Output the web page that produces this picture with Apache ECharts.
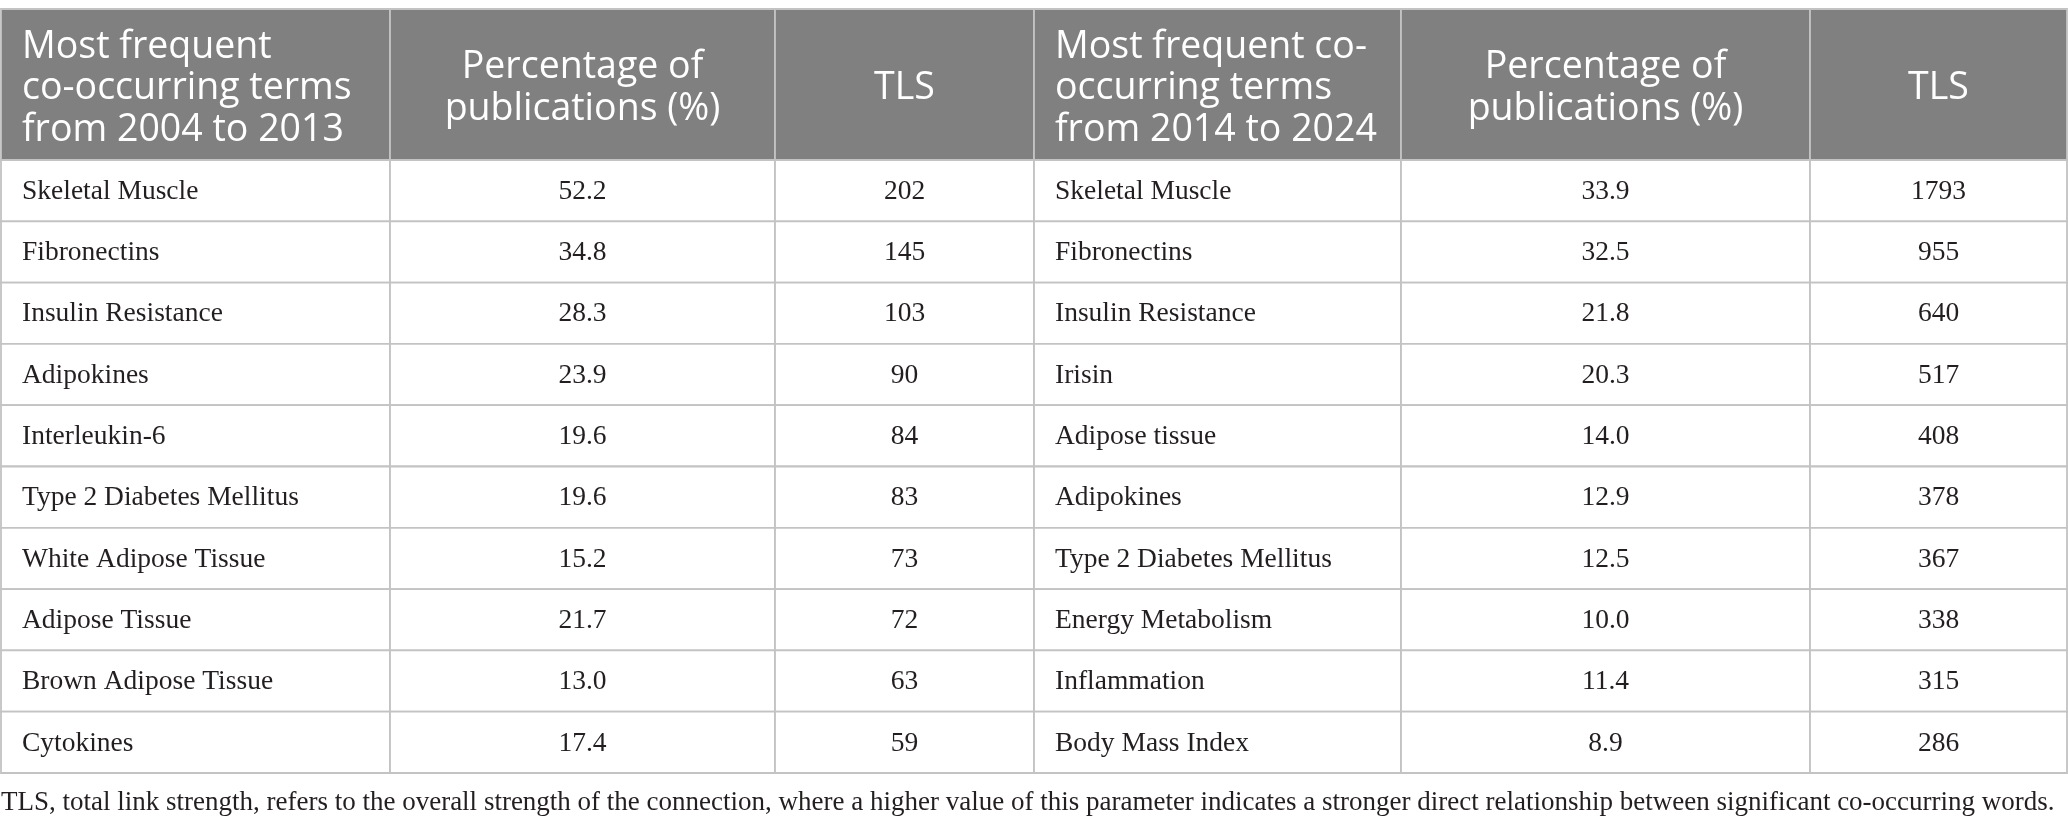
<!DOCTYPE html>
<html>
<head>
<meta charset="utf-8">
<title>Co-occurring terms</title>
<script src="https://cdn.jsdelivr.net/npm/echarts@6/dist/echarts.min.js"></script>
<style>
    html, body { margin: 0; padding: 0; background: #fff; }
    #chart { width: 2068px; height: 830px; }
</style>
</head>
<body>
<div id="chart"></div>
<script>
// 表头
var headers = [
    'Most frequent\nco-occurring terms\nfrom 2004 to 2013',
    'Percentage of\npublications (%)',
    'TLS',
    'Most frequent co-\noccurring terms\nfrom 2014 to 2024',
    'Percentage of\npublications (%)',
    'TLS'
];
// 2004-2013
var termsA = ['Skeletal Muscle', 'Fibronectins', 'Insulin Resistance', 'Adipokines', 'Interleukin-6',
    'Type 2 Diabetes Mellitus', 'White Adipose Tissue', 'Adipose Tissue', 'Brown Adipose Tissue', 'Cytokines'];
var pctA = [52.2, 34.8, 28.3, 23.9, 19.6, 19.6, 15.2, 21.7, 13.0, 17.4];
var tlsA = [202, 145, 103, 90, 84, 83, 73, 72, 63, 59];
// 2014-2024
var termsB = ['Skeletal Muscle', 'Fibronectins', 'Insulin Resistance', 'Irisin', 'Adipose tissue',
    'Adipokines', 'Type 2 Diabetes Mellitus', 'Energy Metabolism', 'Inflammation', 'Body Mass Index'];
var pctB = [33.9, 32.5, 21.8, 20.3, 14.0, 12.9, 12.5, 10.0, 11.4, 8.9];
var tlsB = [1793, 955, 640, 517, 408, 378, 367, 338, 315, 286];

var footnote = 'TLS, total link strength, refers to the overall strength of the connection, where a higher value of this parameter indicates a stronger direct relationship between significant co-occurring words.';

// 版式（坐标轴单位）
var colEdges = [1, 390, 775, 1034, 1401, 1810, 2067];
var headTop = 9, headBottom = 160, rowH = 61.3;
function rowTop(r) { return r === 0 ? headTop : headBottom + (r - 1) * rowH; }
function rowBottom(r) { return r === 0 ? headBottom : headBottom + r * rowH; }

// 组装单元格
var cells = [], cellText = [];
headers.forEach(function (h, c) { cells.push([c, 0]); cellText.push(h); });
for (var i = 0; i < termsA.length; i++) {
    var row = [termsA[i], pctA[i].toFixed(1), String(tlsA[i]), termsB[i], pctB[i].toFixed(1), String(tlsB[i])];
    for (var c = 0; c < row.length; c++) {
        cells.push([c, i + 1]);
        cellText.push(row[c]);
    }
}

var myChart = echarts.init(document.getElementById('chart'));

var option = {
    animation: false,
    grid: { left: 0, right: 0, top: 0, bottom: 0 },
    xAxis: { type: 'value', min: 0, max: 2068, show: false },
    yAxis: { type: 'value', min: 0, max: 830, inverse: true, show: false },
    graphic: [{
        type: 'text',
        left: 1,
        top: 789,
        style: {
            text: footnote,
            fill: '#231f20',
            fontFamily: '"Liberation Serif", serif',
            fontSize: 27
        }
    }],
    series: [{
        type: 'custom',
        clip: false,
        data: cells,
        renderItem: function (params, api) {
            var col = api.value(0), r = api.value(1);
            var p0 = api.coord([colEdges[col], rowTop(r)]);
            var p1 = api.coord([colEdges[col + 1], rowBottom(r)]);
            var head = r === 0;
            var leftAlign = col === 0 || col === 3;
            return {
                type: 'group',
                children: [{
                    type: 'rect',
                    shape: { x: p0[0], y: p0[1], width: p1[0] - p0[0], height: p1[1] - p0[1] },
                    style: { fill: head ? '#7f807f' : '#fff', stroke: '#c3c3c3', lineWidth: 1.8 }
                }, {
                    type: 'text',
                    style: {
                        text: cellText[params.dataIndex],
                        x: leftAlign ? p0[0] + 21 : (p0[0] + p1[0]) / 2,
                        y: (p0[1] + p1[1]) / 2 + (head ? 4 : 1),
                        align: leftAlign ? 'left' : 'center',
                        verticalAlign: 'middle',
                        fill: head ? '#fff' : '#231f20',
                        fontFamily: head ? '"Open Sans", sans-serif' : '"Liberation Serif", serif',
                        fontSize: head ? 37.5 : 27.5,
                        lineHeight: head ? 41.5 : 30
                    }
                }]
            };
        }
    }]
};

myChart.setOption(option);
</script>
</body>
</html>
